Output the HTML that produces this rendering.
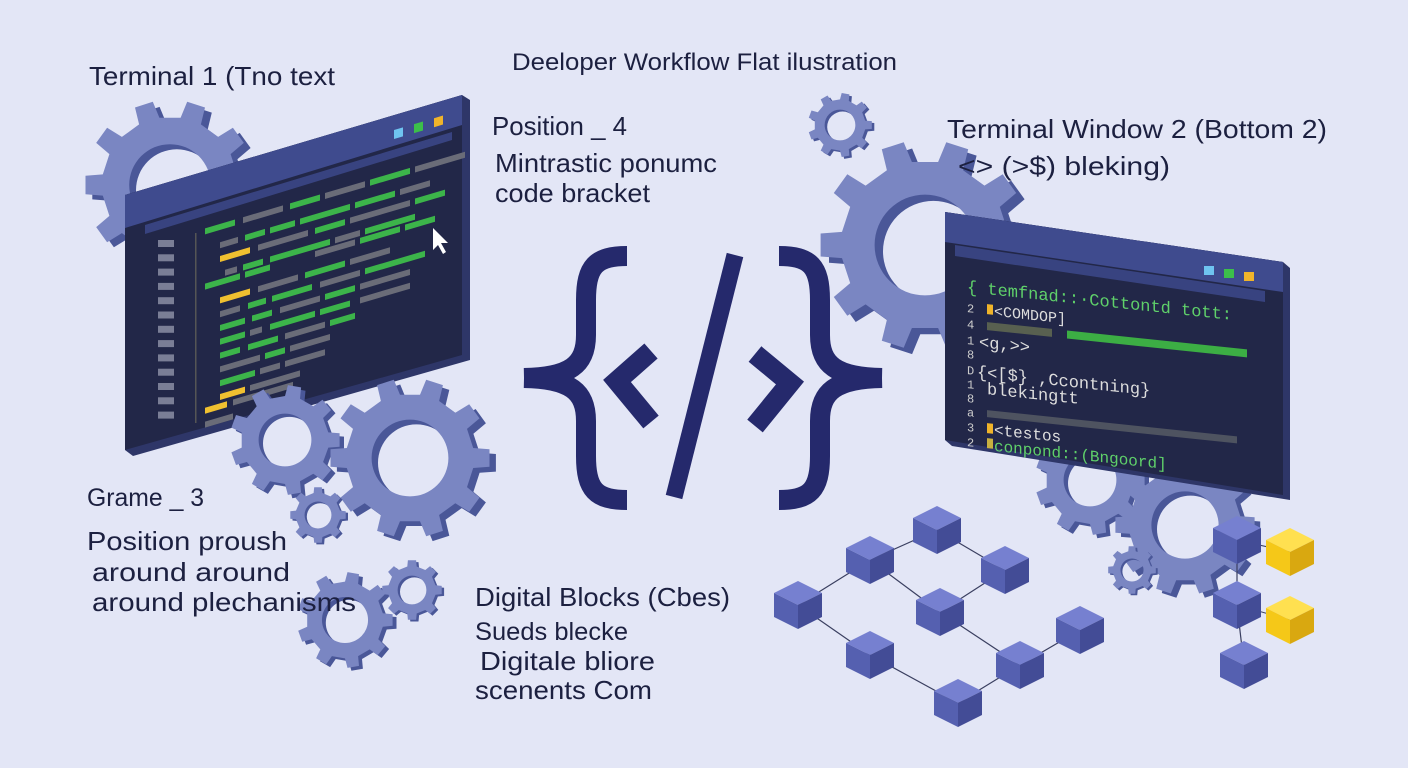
<!DOCTYPE html>
<html><head><meta charset="utf-8"><style>
html,body{margin:0;padding:0;background:#e3e6f6;}
svg{display:block}
text{font-family:"Liberation Sans",sans-serif;fill:#1c2040}
.m{font-family:"Liberation Mono",monospace}
</style></head><body>
<svg id="s" width="1408" height="768" viewBox="0 0 1408 768" xmlns="http://www.w3.org/2000/svg">
<rect width="1408" height="768" fill="#e3e6f6"/>
<g id="gearsBack"></g>
<!-- Terminal 1 -->
<polygon points="125,195 462,95 470,100 470,360 133,456 125,450" fill="#2e3668"/>
<polygon points="125,195 462,95 462,355 125,450" fill="#222748"/>
<polygon points="125,195 462,95 462,125 125,228" fill="#3f4b8e"/>
<polygon points="145,225 452,132 452,140 145,234" fill="#3f4b8e" opacity=".8"/>
<g id="t1"></g>
<polygon points="433,228 433,250 438,245 443,254 446,252 441,243 448,243" fill="#fff"/>
<!-- Terminal 2 -->
<polygon points="945,212 1283,262 1290,268 1290,500 952,446 945,440" fill="#2e3668"/>
<polygon points="945,212 1283,262 1283,495 945,440" fill="#222748"/>
<polygon points="945,212 1283,262 1283,292 945,242" fill="#3f4b8e"/>
<polygon points="955,245 1265,291 1265,302 955,256" fill="#3f4b8e" opacity=".8"/>
<rect x="1204" y="266" width="10" height="9" fill="#6fc4f0"/>
<rect x="1224" y="269" width="10" height="9" fill="#3cbf4a"/>
<rect x="1244" y="272" width="10" height="9" fill="#f0b42a"/>
<g transform="translate(967,292) skewY(6)" class="m">
<text x="0" y="0" font-size="17" style="fill:#5fd06a" class="m">{ temfnad::·Cottontd tott:</text>
<text x="0" y="20" font-size="12" style="fill:#ccc" class="m">2</text>
<rect x="20" y="10" width="6" height="10" fill="#f0b42a"/>
<text x="27" y="21" font-size="15" style="fill:#ddd" class="m">&lt;COMDOP]</text>
<text x="0" y="36" font-size="12" style="fill:#ccc" class="m">4</text>
<rect x="20" y="28" width="65" height="8" fill="#586050"/>
<rect x="100" y="28" width="180" height="8" fill="#3cae44"/>
<text x="0" y="52" font-size="12" style="fill:#ccc" class="m">1</text>
<text x="12" y="54" font-size="17" style="fill:#ddd" class="m">&lt;g,&gt;&gt;</text>
<text x="0" y="66" font-size="12" style="fill:#ccc" class="m">8</text>
<text x="0" y="82" font-size="12" style="fill:#ccc" class="m">D</text>
<text x="10" y="84" font-size="17" style="fill:#ddd" class="m">{&lt;[$} ,Ccontning}</text>
<text x="0" y="96" font-size="12" style="fill:#ccc" class="m">1</text>
<text x="20" y="100" font-size="17" style="fill:#ddd" class="m">blekingtt</text>
<text x="0" y="110" font-size="12" style="fill:#ccc" class="m">8</text>
<text x="0" y="124" font-size="12" style="fill:#ccc" class="m">a</text>
<rect x="20" y="116" width="250" height="7" fill="#4e5360"/>
<text x="0" y="139" font-size="12" style="fill:#ccc" class="m">3</text>
<rect x="20" y="129" width="6" height="10" fill="#f0b42a"/>
<text x="27" y="140" font-size="16" style="fill:#ddd" class="m">&lt;testos</text>
<text x="0" y="154" font-size="12" style="fill:#ccc" class="m">2</text>
<rect x="20" y="144" width="6" height="10" fill="#c8b040"/>
<text x="27" y="156" font-size="16" style="fill:#5fd06a" class="m">conpond::(Bngoord]</text>
</g>
<g id="gearsFront"></g>
<!-- code symbol -->
<g fill="none" stroke="#25296c" stroke-width="20" stroke-linejoin="miter">
<path d="M627,256 C596,256 586,266 586,300 L586,335 C586,365 570,377 524,378 M627,500 C596,500 586,490 586,456 L586,421 C586,391 570,379 524,378"/>
<path d="M779,256 C810,256 820,266 820,300 L820,335 C820,365 836,377 882,378 M779,500 C810,500 820,490 820,456 L820,421 C820,391 836,379 882,378"/>
<path d="M651,351 L617,381 L651,422"/>
<path d="M755,354 L790,383 L755,426"/>
<path d="M735,255 L674,497" stroke-width="17"/>
</g>
<g id="cubes"></g>
<!-- labels -->
<text x="89" y="85" font-size="26" textLength="246" lengthAdjust="spacingAndGlyphs">Terminal 1 (Tno text</text>
<text x="512" y="70" font-size="24" textLength="385" lengthAdjust="spacingAndGlyphs">Deeloper Workflow Flat ilustration</text>
<text x="492" y="135" font-size="26" textLength="135" lengthAdjust="spacingAndGlyphs">Position _ 4</text>
<text x="495" y="172" font-size="26" textLength="222" lengthAdjust="spacingAndGlyphs">Mintrastic ponumc</text>
<text x="495" y="202" font-size="26" textLength="155" lengthAdjust="spacingAndGlyphs">code bracket</text>
<text x="947" y="138" font-size="26" textLength="380" lengthAdjust="spacingAndGlyphs">Terminal Window 2 (Bottom 2)</text>
<text x="958" y="175" font-size="26" textLength="212" lengthAdjust="spacingAndGlyphs">&lt;&gt;  (&gt;$) bleking)</text>
<text x="87" y="506" font-size="25" textLength="117" lengthAdjust="spacingAndGlyphs">Grame _ 3</text>
<text x="87" y="550" font-size="26" textLength="200" lengthAdjust="spacingAndGlyphs">Position proush</text>
<text x="92" y="581" font-size="26" textLength="198" lengthAdjust="spacingAndGlyphs">around around</text>
<text x="92" y="611" font-size="26" textLength="264" lengthAdjust="spacingAndGlyphs">around plechanisms</text>
<text x="475" y="606" font-size="26" textLength="255" lengthAdjust="spacingAndGlyphs">Digital Blocks (Cbes)</text>
<text x="475" y="640" font-size="25" textLength="153" lengthAdjust="spacingAndGlyphs">Sueds blecke</text>
<text x="480" y="670" font-size="26" textLength="175" lengthAdjust="spacingAndGlyphs">Digitale bliore</text>
<text x="475" y="699" font-size="26" textLength="177" lengthAdjust="spacingAndGlyphs">scenents Com</text>
</svg>
<script>
var NS="http://www.w3.org/2000/svg";
function el(t,a,p){var e=document.createElementNS(NS,t);for(var k in a)e.setAttribute(k,a[k]);p.appendChild(e);return e;}
function gearPath(cx,cy,r,n){var ri=r*0.8,d="";for(var i=0;i<n;i++){var a=i/n*2*Math.PI,w=Math.PI/n;
var pts=[[ri,a-w*0.5],[r,a-w*0.35],[r,a+w*0.35],[ri,a+w*0.5],[ri,a+w*1.5]];
pts.forEach(function(p,j){d+=(i==0&&j==0?"M":"L")+(cx+p[0]*Math.cos(p[1])).toFixed(1)+","+(cy+p[0]*Math.sin(p[1])).toFixed(1);});}
var h=r*0.48;d+="Z M"+(cx+h)+","+cy+" A"+h+","+h+" 0 1 0 "+(cx-h)+","+cy+" A"+h+","+h+" 0 1 0 "+(cx+h)+","+cy+"Z";return d;}
function gear(g,cx,cy,r,n){el("path",{d:gearPath(cx+r*0.08,cy+r*0.06,r,n),fill:"#4a5798","fill-rule":"evenodd"},g);
el("path",{d:gearPath(cx,cy,r,n),fill:"#7a86c2","fill-rule":"evenodd"},g);}
var gb=document.getElementById("gearsBack"),gf=document.getElementById("gearsFront");
gear(gb,170,185,85,10);gear(gb,840,125,32,9);gear(gb,925,245,105,10);
gear(gf,285,440,55,9);gear(gf,410,458,80,10);gear(gf,318,515,28,8);gear(gf,345,620,48,9);gear(gf,412,590,30,8);
gear(gb,1090,480,55,9);gear(gb,1185,525,70,10);gear(gf,1132,570,24,8);
var t=document.getElementById("t1");
var sk=-0.295;function bar(x,y,w,c){var y0=y+(x-125)*sk;el("polygon",{points:x+","+y0+" "+(x+w)+","+(y0+w*sk)+" "+(x+w)+","+(y0+w*sk+6)+" "+x+","+(y0+6),fill:c},t);}
var G="#3cb44a",Y="#f0c030",R="#6a6c78",L="#7a7e96";
for(var i=0;i<13;i++)el("rect",{x:158,y:240+i*14.3,width:16,height:7,fill:L},t);
el("rect",{x:195,y:233,width:1.5,height:190,fill:"#555"},t);
var rows=[[205,[[0,30,G],[38,40,R],[85,30,G],[120,40,R],[165,40,G],[210,50,R]]],[220,[[0,18,R],[25,20,G],[50,25,G],[80,50,G],[135,40,G],[180,30,R]]],[220,[[0,30,Y],[38,50,R],[95,30,G],[130,60,R],[195,30,G]]],[225,[[0,12,R],[18,20,G],[45,60,G],[110,25,R],[140,50,G]]],[205,[[0,35,G],[40,25,G],[110,40,R],[155,40,G],[200,30,G]]],[220,[[0,30,Y],[38,40,R],[85,40,G],[130,40,R]]],[220,[[0,20,R],[28,18,G],[52,40,G],[100,40,R],[145,60,G]]],[220,[[0,25,G],[32,20,G],[60,40,R],[105,30,G],[140,50,R]]],[220,[[0,25,G],[30,12,R],[50,45,G],[100,30,G],[140,50,R]]],[220,[[0,20,G],[28,30,G],[65,40,R],[110,25,G]]],[220,[[0,40,R],[45,20,G],[70,40,R]]],[220,[[0,35,G],[40,20,R],[65,40,R]]],[220,[[0,25,Y],[30,50,R]]],[205,[[0,22,Y],[28,60,R]]],[205,[[0,28,R]]]];
rows.forEach(function(r,i){r[1].forEach(function(b){bar(r[0]+b[0],252+i*13.8+(r[0]-205)*0.295,b[1],b[2]);});});
var bt=[["#6fc4f0",394],["#3cbf4a",414],["#f0b42a",434]];
bt.forEach(function(b){var x=b[1],y=130+(x-394)*sk;el("polygon",{points:x+","+y+" "+(x+9)+","+(y+9*sk)+" "+(x+9)+","+(y+9*sk+9)+" "+x+","+(y+9),fill:b[0]},t);});
var cg=document.getElementById("cubes");
var cs=[[798,605],[870,560],[937,530],[1005,570],[940,612],[870,655],[958,703],[1020,665],[1080,630],[1237,540],[1237,605],[1244,665]];
var ys=[[1290,552],[1290,620]];
var lines=[[0,1],[1,2],[2,3],[3,4],[4,1],[0,5],[5,6],[6,7],[7,8],[4,7],[9,10],[10,11]];
lines.forEach(function(l){el("line",{x1:cs[l[0]][0],y1:cs[l[0]][1],x2:cs[l[1]][0],y2:cs[l[1]][1],stroke:"#3a3f60","stroke-width":1.2},cg);});
el("line",{x1:1237,y1:540,x2:1290,y2:552,stroke:"#3a3f60"},cg);el("line",{x1:1237,y1:605,x2:1290,y2:620,stroke:"#3a3f60"},cg);
function cube(x,y,s,c){var h=s*0.5;
el("polygon",{points:(x-s)+","+(y-h)+" "+x+","+(y-2*h)+" "+(x+s)+","+(y-h)+" "+x+","+y,fill:c[0]},cg);
el("polygon",{points:(x-s)+","+(y-h)+" "+x+","+y+" "+x+","+(y+2*h)+" "+(x-s)+","+(y+h),fill:c[1]},cg);
el("polygon",{points:(x+s)+","+(y-h)+" "+x+","+y+" "+x+","+(y+2*h)+" "+(x+s)+","+(y+h),fill:c[2]},cg);}
var B=["#7680d0","#5560b0","#434c96"],YY=["#ffe050","#f5c818","#d9a810"];
cs.forEach(function(c){cube(c[0],c[1],24,B);});ys.forEach(function(c){cube(c[0],c[1],24,YY);});
</script>
</body></html>
